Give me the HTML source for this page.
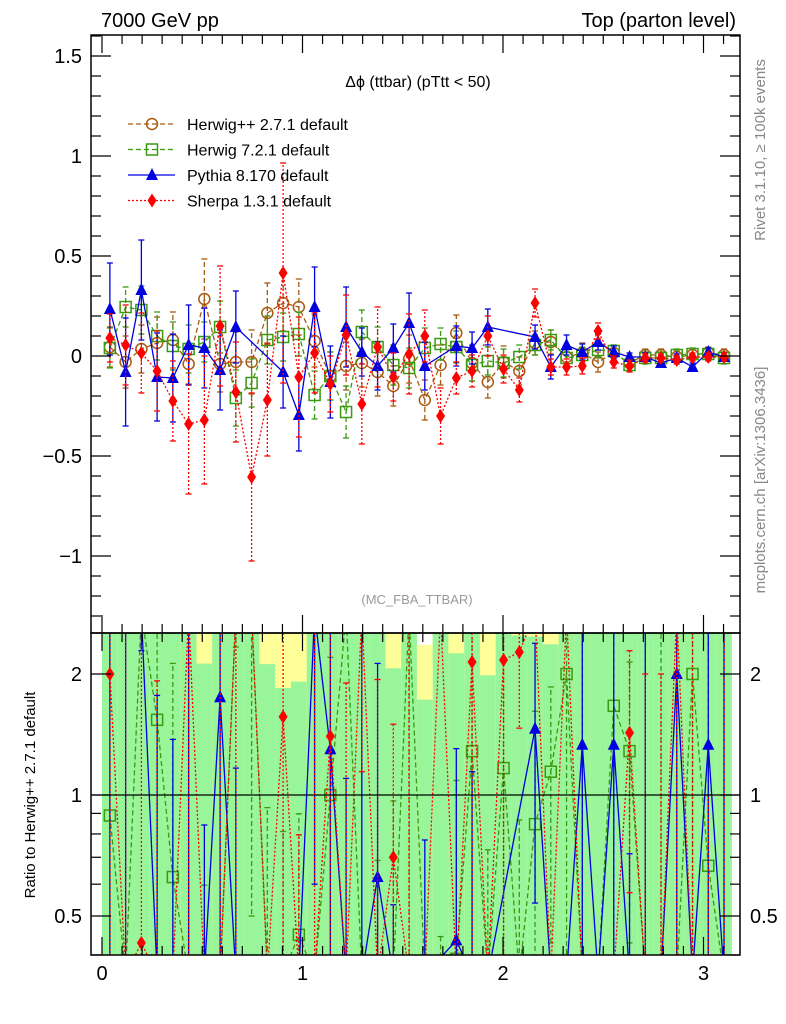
<!DOCTYPE html>
<html><head><meta charset="utf-8"><style>
html,body{margin:0;background:#fff;overflow:hidden;width:786px;height:1024px}
svg{display:block;font-family:"Liberation Sans",sans-serif}
</style></head><body>
<svg id="chart" width="786" height="1024" viewBox="0 0 786 1024" xmlns="http://www.w3.org/2000/svg" overflow="hidden">
<defs>
<clipPath id="cm"><rect x="91" y="35" width="649" height="598"/></clipPath>
<clipPath id="cr"><rect x="91" y="633" width="649" height="322"/></clipPath>
</defs>
<g id="ratioBands" clip-path="url(#cr)"></g>
<g id="mainG" clip-path="url(#cm)"></g>
<g id="ratioG" clip-path="url(#cr)"></g>
<g id="axes"></g>
<text x="101" y="27" font-size="20">7000 GeV pp</text>
<text x="736" y="27" font-size="20" text-anchor="end">Top (parton level)</text>
<text x="418" y="87" font-size="16" text-anchor="middle">Δϕ (ttbar) (pTtt &lt; 50)</text>
<text x="417" y="604" font-size="13" fill="#999" text-anchor="middle">(MC_FBA_TTBAR)</text>
<text transform="translate(765,150) rotate(-90)" font-size="15" fill="#888" text-anchor="middle">Rivet 3.1.10, ≥ 100k events</text>
<text transform="translate(765,480) rotate(-90)" font-size="15" fill="#888" text-anchor="middle">mcplots.cern.ch [arXiv:1306.3436]</text>
<text transform="translate(35,795) rotate(-90)" font-size="15" text-anchor="middle">Ratio to Herwig++ 2.7.1 default</text>
<g id="legend"></g>
</svg>
<script>
const nBins = 40;
const herwigpp = [0.045,-0.03,0.035,0.065,0.08,-0.04,0.285,-0.04,-0.03,-0.03,0.215,0.265,0.245,0.075,-0.1,-0.05,-0.035,-0.08,-0.15,-0.015,-0.22,-0.045,0.115,-0.035,-0.13,-0.03,-0.075,0.065,0.07,-0.005,0.015,-0.03,0.015,-0.035,0.005,0.005,-0.005,0.005,0.015,0.005];
const herwigppErr = [0.1,0.13,0.12,0.13,0.14,0.1,0.2,0.14,0.15,0.16,0.15,0.14,0.14,0.13,0.12,0.12,0.12,0.12,0.1,0.12,0.1,0.1,0.09,0.09,0.08,0.08,0.07,0.06,0.06,0.05,0.05,0.05,0.04,0.04,0.03,0.03,0.03,0.03,0.03,0.03];
const herwig7 = [0.04,0.245,0.23,0.1,0.05,0.035,0.07,0.145,-0.21,-0.135,0.08,0.095,0.11,-0.195,-0.1,-0.28,0.12,0.045,-0.045,-0.06,0.04,0.06,0.045,-0.045,-0.025,-0.035,-0.005,0.055,0.08,-0.01,0.005,0.03,0.025,-0.045,-0.01,-0.01,0.005,0.01,0.01,-0.01];
const herwig7Err = [0.1,0.1,0.12,0.12,0.12,0.12,0.1,0.13,0.14,0.12,0.12,0.12,0.11,0.12,0.12,0.13,0.11,0.1,0.1,0.1,0.1,0.08,0.08,0.08,0.07,0.07,0.06,0.05,0.05,0.04,0.04,0.04,0.03,0.03,0.03,0.03,0.03,0.03,0.03,0.03];
const pythia = [0.235,-0.08,0.33,-0.105,-0.11,0.055,0.04,-0.07,0.145,null,null,-0.08,-0.295,0.245,-0.13,0.145,0.02,-0.05,0.04,0.165,-0.05,null,0.05,0.04,0.145,null,null,0.095,-0.055,0.055,0.02,0.07,0.02,-0.005,-0.005,-0.035,-0.01,-0.055,0.02,-0.005];
const pythiaErr = [0.23,0.27,0.25,0.22,0.22,0.2,0.2,0.2,0.18,0,0,0.18,0.18,0.2,0.18,0.2,0.12,0.12,0.12,0.15,0.12,0,0.1,0.08,0.09,0,0,0.06,0.06,0.05,0.04,0.04,0.03,0.02,0.02,0.02,0.02,0.02,0.02,0.02];
const sherpa = [0.09,0.055,0.015,-0.075,-0.225,-0.34,-0.32,0.15,-0.18,-0.605,-0.22,0.415,-0.105,0.015,-0.14,0.105,-0.24,0.045,-0.105,0.01,0.1,-0.3,-0.11,-0.075,0.1,-0.065,-0.17,0.265,-0.055,-0.055,-0.05,0.125,-0.03,-0.05,-0.01,-0.01,-0.02,-0.005,-0.005,-0.005];
const sherpaErr = [0.12,0.2,0.2,0.2,0.2,0.35,0.32,0.3,0.25,0.42,0.28,0.55,0.3,0.2,0.14,0.2,0.2,0.2,0.12,0.2,0.13,0.14,0.08,0.08,0.1,0.07,0.06,0.07,0.04,0.04,0.04,0.04,0.03,0.03,0.02,0.02,0.02,0.02,0.02,0.02];
const xTicks = [0,1,2,3];
const yTicks = [-1,-0.5,0,0.5,1,1.5];
const yTickLabels = ["−1","−0.5","0","0.5","1","1.5"];
const rTicks = [0.5,1,2];

const NS="http://www.w3.org/2000/svg";
const X0=91,X1=740,MT=35,MB=633,RB=955;
const sx=v=>102+200.5*v;
const sy=v=>Math.max(MT-20,Math.min(MB+20,356-200*v));
const sr=v=>795-121*Math.log2(v);
const binW=Math.PI/nBins;
const cx=i=>sx((i+0.5)*binW);
function mk(tag,attrs,parent){const e=document.createElementNS(NS,tag);for(const k in attrs)e.setAttribute(k,attrs[k]);parent.appendChild(e);return e;}
const mainG=document.getElementById('mainG'),ratioG=document.getElementById('ratioG'),bandG=document.getElementById('ratioBands'),axes=document.getElementById('axes');

for(let i=0;i<nBins;i++){
  const ref=Math.abs(herwigpp[i]);const b=herwigppErr[i]/Math.max(ref,1e-6);
  const xa=sx(i*binW),xb=sx((i+1)*binW);
  const y2t=Math.max(sr(1+3*b),MB),y2b=(1-3*b)>0?Math.min(sr(1-3*b),RB):RB;
  const yel=mk('rect',{x:xa,y:y2t,width:xb-xa,height:Math.max(0,y2b-y2t),fill:'#ffff99'},bandG);
  
  
  const y1t=Math.max(sr(1+1.6*b),MB),y1b=(1-1.6*b)>0?Math.min(sr(1-1.6*b),RB):RB;
  const gr=mk('rect',{x:xa,y:y1t,width:xb-xa,height:Math.max(0,y1b-y1t),fill:'#99f599'},bandG);
  
  
}

const series=[
 {name:'herwigpp',vals:herwigpp,errs:herwigppErr,color:'#a85a10',dash:'5,3',marker:'circle'},
 {name:'herwig7',vals:herwig7,errs:herwig7Err,color:'#3a9a10',dash:'5,3',marker:'square'},
 {name:'pythia',vals:pythia,errs:pythiaErr,color:'#0000e0',dash:'',marker:'tri'},
 {name:'sherpa',vals:sherpa,errs:sherpaErr,color:'#ff0000',dash:'2,2',marker:'diamond'}
];
function marker(s,x,y,g,nm){
  let e;
  if(s.marker==='circle')e=mk('circle',{cx:x,cy:y,r:5.5,fill:'none',stroke:s.color,'stroke-width':1.5},g);
  else if(s.marker==='square')e=mk('rect',{x:x-5.5,y:y-5.5,width:11,height:11,fill:'none',stroke:s.color,'stroke-width':1.5},g);
  else if(s.marker==='tri')e=mk('polygon',{points:`${x},${y-7} ${x-6},${y+5} ${x+6},${y+5}`,fill:s.color},g);
  else e=mk('polygon',{points:`${x},${y-7} ${x-4.5},${y} ${x},${y+7} ${x+4.5},${y}`,fill:s.color},g);
  
  
}
function drawSeries(s,g,fy,tr,suffix){
  let pts=[];
  for(let i=0;i<nBins;i++){
    if(s.vals[i]===null)continue;
    const v=tr(s.vals[i],i);if(v===null)continue;
    pts.push([cx(i),fy(v.c),fy(v.lo),fy(v.hi)]);
  }
  const ln=mk('polyline',{points:pts.map(p=>p[0]+','+p[1]).join(' '),fill:'none',stroke:s.color,'stroke-width':1.3,'stroke-dasharray':s.dash},g);
  
  
  pts.forEach(p=>{
    const eb=mk('line',{x1:p[0],x2:p[0],y1:p[2],y2:p[3],stroke:s.color,'stroke-width':1.3,'stroke-dasharray':s.dash},g);
    
    
    [p[2],p[3]].forEach(yy=>{const c=mk('line',{x1:p[0]-3,x2:p[0]+3,y1:yy,y2:yy,stroke:s.color,'stroke-width':1.3},g);
      
      });
    marker(s,p[0],p[1],g,s.name+'-marker'+suffix);
  });
}
series.forEach(s=>drawSeries(s,mainG,sy,(v,i)=>({c:v,lo:v-s.errs[i],hi:v+s.errs[i]}),''));
const rmap=v=>v>0?Math.max(MB-20,Math.min(RB+20,sr(v))):RB+20;
series.slice(1).forEach(s=>drawSeries(s,ratioG,rmap,(v,i)=>{const r=herwigpp[i];if(!r)return null;
  return {c:v/r,lo:(v-s.errs[i])/r,hi:(v+s.errs[i])/r};},'-ratio'));
const one=mk('line',{x1:X0,x2:X1,y1:sr(1),y2:sr(1),stroke:'#000','stroke-width':1.2},ratioG);



[[MT,MB],[MB,RB]].forEach((f,k)=>{const r=mk('rect',{x:X0,y:f[0],width:X1-X0,height:f[1]-f[0],fill:'none',stroke:'#000','stroke-width':1.5},axes);
  
  });
function tk(x1,y1,x2,y2,nm){const l=mk('line',{x1,y1,x2,y2,stroke:'#000','stroke-width':1.2},axes);
  
  }
for(let m=-14;m<=16;m++){const v=m/10,y=356-200*v;if(y<MT||y>MB)continue;const L=(m%5===0)?20:10;
  tk(X0,y,X0+L,y,'y-tick');tk(X1,y,X1-L,y,'y-tick');}
yTicks.forEach((v,k)=>{const t=mk('text',{x:82,y:sy(v)+7,'font-size':20,'text-anchor':'end'},axes);t.textContent=yTickLabels[k];
  
  });
for(let m=0;m<=31;m++){const v=m/10,x=sx(v);const L=(m%10===0)?18:9;
  tk(x,MT,x,MT+L,'x-tick');tk(x,MB,x,MB-L,'x-tick');tk(x,MB,x,MB+L,'x-tick');tk(x,RB,x,RB-L,'x-tick');}
xTicks.forEach(v=>{const t=mk('text',{x:sx(v),y:980,'font-size':20,'text-anchor':'middle'},axes);t.textContent=String(v);
  
  });
[0.4,0.5,0.6,0.7,0.8,0.9,1,2].forEach(v=>{const y=sr(v);if(y<MB||y>RB)return;const L=rTicks.includes(v)?20:10;
  tk(X0,y,X0+L,y,'ratio-y-tick');tk(X1,y,X1-L,y,'ratio-y-tick');});
rTicks.forEach(v=>{const lab=String(v);
  const a=mk('text',{x:82,y:sr(v)+7,'font-size':20,'text-anchor':'end'},axes);a.textContent=lab;
  
  
  const b=mk('text',{x:750,y:sr(v)+7,'font-size':20},axes);b.textContent=lab;
  
  });

const legG=document.getElementById('legend');
const legLabels=['Herwig++ 2.7.1 default','Herwig 7.2.1 default','Pythia 8.170 default','Sherpa 1.3.1 default'];
series.forEach((s,k)=>{const y=124+k*25.5;
  const g=mk('g',{},legG);
  
  
  mk('line',{x1:128,x2:175,y1:y,y2:y,stroke:s.color,'stroke-width':1.3,'stroke-dasharray':s.dash},g);
  marker(s,152,y,g,'legend-marker');
  const t=mk('text',{x:187,y:y+6,'font-size':16},g);t.textContent=legLabels[k];
  
  });
</script>
</body></html>
